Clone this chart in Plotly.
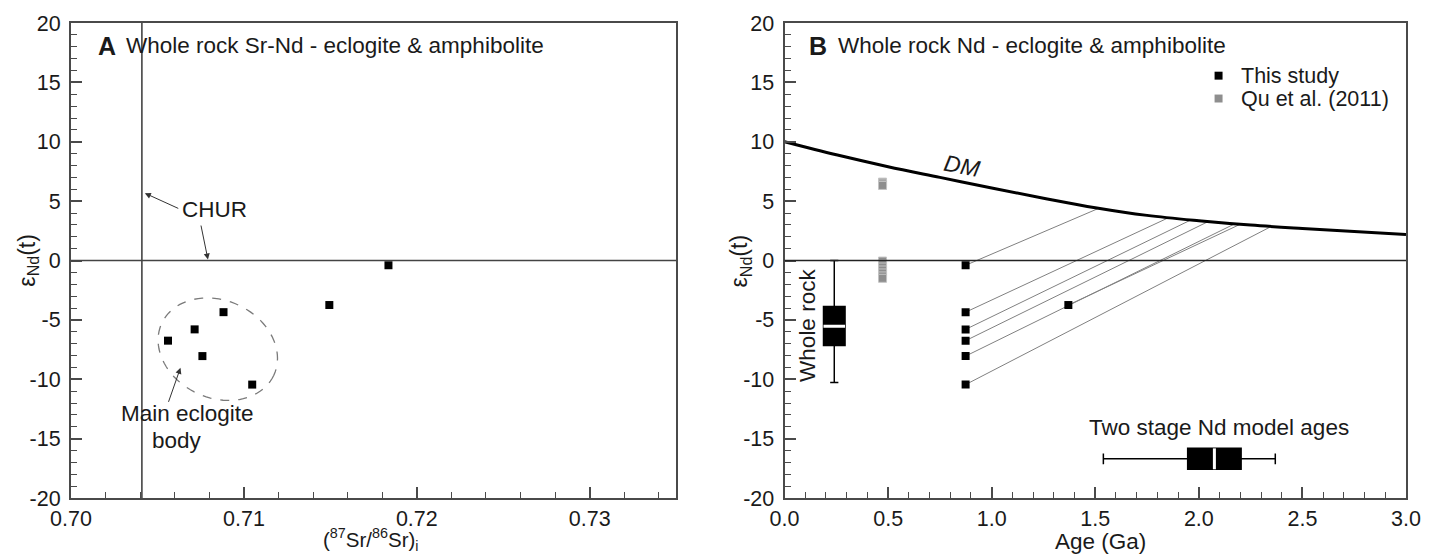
import numpy as np
import plotly.graph_objects as go

# ---------------- data ----------------
# Panel A: whole-rock Sr-Nd
sr_initial = [0.70561, 0.70715, 0.70760, 0.70882, 0.71048, 0.71494, 0.71836]
end_a = [-6.75, -5.80, -8.05, -4.35, -10.45, -3.75, -0.40]
CHUR_SR = 0.7041
CHUR_END = 0.0

# Panel B: whole-rock Nd evolution
age_this = [0.874, 0.874, 0.874, 0.874, 0.874, 0.874, 1.37]
end_this = [-0.40, -4.35, -5.80, -6.75, -8.05, -10.45, -3.75]
tdm2_age = [1.516, 1.857, 1.961, 2.044, 2.172, 2.341, 2.196]
tdm2_end = [4.39, 3.63, 3.41, 3.27, 3.08, 2.79, 3.02]

age_qu = [0.473] * 10
end_qu = [6.60, 6.45, 6.32, -0.05, -0.30, -0.55, -0.80, -1.05, -1.30, -1.50]

dm_age = [0.0, 0.25, 0.5, 0.75, 1.0, 1.25, 1.5, 1.75, 2.0, 2.25, 2.5, 2.75, 3.0]
dm_end = [10.0, 8.9, 7.9, 7.0, 6.1, 5.25, 4.45, 3.8, 3.35, 2.98, 2.7, 2.45, 2.2]

# box summaries
wr_pos = 0.24
wr_low, wr_q1, wr_med, wr_q3, wr_high = -10.28, -7.15, -5.54, -3.87, 0.0
tdm_pos = -16.7
tdm_low, tdm_q1, tdm_med, tdm_q3, tdm_high = 1.539, 1.946, 2.075, 2.204, 2.369

# tick labels
ya_ticks = [20, 15, 10, 5, 0, -5, -10, -15, -20]
xa_ticks = [0.70, 0.71, 0.72, 0.73]
xb_ticks = [0.0, 0.5, 1.0, 1.5, 2.0, 2.5, 3.0]

# ---------------- layout geometry ----------------
W, H = 1433, 556
L, R, T, B = 71, 1410, 20, 498
PW, PH = R - L, B - T
A_RIGHT = 678
B_LEFT = 786.7
dom_a = [0, (A_RIGHT - L) / PW]
dom_b = [(B_LEFT - L) / PW, 1]


def px(x):
    return (x - L) / PW


def py(y):
    return (B - y) / PH


FONT = "Liberation Sans, Arial, sans-serif"
AX = "#4a4a4a"
TXT = "#1a1a1a"

fig = go.Figure()

# ---- Panel A ----
fig.add_trace(go.Scatter(x=sr_initial, y=end_a, mode="markers",
                         marker=dict(symbol="square", size=8, color="black"),
                         xaxis="x", yaxis="y", showlegend=False, hoverinfo="skip"))

# ---- Panel B ----
lx, ly = [], []
for a0, e0, a1, e1 in zip(age_this, end_this, tdm2_age, tdm2_end):
    lx += [a0, a1, None]
    ly += [e0, e1, None]
fig.add_trace(go.Scatter(x=lx, y=ly, mode="lines", line=dict(color="#808080", width=1),
                         xaxis="x2", yaxis="y2", showlegend=False, hoverinfo="skip"))
fig.add_trace(go.Scatter(x=dm_age, y=dm_end, mode="lines",
                         line=dict(color="black", width=3, shape="spline"),
                         xaxis="x2", yaxis="y2", showlegend=False, hoverinfo="skip"))
fig.add_trace(go.Scatter(x=age_qu, y=end_qu, mode="markers",
                         marker=dict(symbol="square", size=8, color="#8e8e8e",
                                     line=dict(color="#c4c4c4", width=1)),
                         xaxis="x2", yaxis="y2", showlegend=False, hoverinfo="skip"))
fig.add_trace(go.Scatter(x=age_this, y=end_this, mode="markers",
                         marker=dict(symbol="square", size=8, color="black"),
                         xaxis="x2", yaxis="y2", showlegend=False, hoverinfo="skip"))

fig.add_trace(go.Box(x=[wr_pos], q1=[wr_q1], median=[wr_med], q3=[wr_q3],
                     lowerfence=[wr_low], upperfence=[wr_high], width=0.104,
                     whiskerwidth=0.38, fillcolor="black",
                     line=dict(color="black", width=1.5), boxpoints=False,
                     xaxis="x2", yaxis="y2", showlegend=False, hoverinfo="skip"))
fig.add_trace(go.Box(y=[tdm_pos], q1=[tdm_q1], median=[tdm_med], q3=[tdm_q3],
                     lowerfence=[tdm_low], upperfence=[tdm_high], width=1.76,
                     orientation="h", whiskerwidth=0.52, fillcolor="black",
                     line=dict(color="black", width=1.5), boxpoints=False,
                     xaxis="x2", yaxis="y2", showlegend=False, hoverinfo="skip"))

shapes = []
# CHUR reference lines panel A
shapes.append(dict(type="line", xref="x", yref="y domain", x0=CHUR_SR, x1=CHUR_SR, y0=0, y1=1,
                   line=dict(color="#444444", width=1.6)))
shapes.append(dict(type="line", xref="x domain", yref="y", x0=0, x1=1, y0=CHUR_END, y1=CHUR_END,
                   line=dict(color="#444444", width=1.6)))
# zero line panel B
shapes.append(dict(type="line", xref="x2 domain", yref="y2", x0=0, x1=1, y0=CHUR_END, y1=CHUR_END,
                   line=dict(color="#222222", width=1.6)))
# white median gaps
shapes.append(dict(type="line", xref="x2", yref="y2", x0=wr_pos - 0.052, x1=wr_pos + 0.052,
                   y0=wr_med, y1=wr_med, line=dict(color="white", width=3)))
shapes.append(dict(type="line", xref="x2", yref="y2", x0=tdm_med, x1=tdm_med,
                   y0=tdm_pos - 0.88, y1=tdm_pos + 0.88, line=dict(color="white", width=3)))

# dashed ellipse around main eclogite body (defined in screen pixels)
SX = PW * dom_a[1] / 0.035     # px per unit of Sr ratio
SY = PH / 40.0                 # px per epsilon unit
ell_cx, ell_cy = 0.70849, -7.47
ell_a, ell_b, ell_rot = 62, 49, np.deg2rad(25)
tt = np.linspace(0, 2 * np.pi, 90)
dx = ell_a * np.cos(tt) * np.cos(ell_rot) - ell_b * np.sin(tt) * np.sin(ell_rot)
dy = ell_a * np.cos(tt) * np.sin(ell_rot) + ell_b * np.sin(tt) * np.cos(ell_rot)
ex = ell_cx + dx / SX
ey = ell_cy - dy / SY
path = "M " + " L ".join(f"{a:.6f},{b:.4f}" for a, b in zip(ex, ey)) + " Z"
shapes.append(dict(type="path", xref="x", yref="y", path=path,
                   line=dict(color="#7a7a7a", width=1.3, dash="dash")))

# manual legend squares
shapes.append(dict(type="rect", xref="paper", yref="paper",
                   x0=px(1218), x1=px(1226), y0=py(77), y1=py(69),
                   fillcolor="black", line=dict(width=0)))
shapes.append(dict(type="rect", xref="paper", yref="paper",
                   x0=px(1218), x1=px(1226), y0=py(100), y1=py(92),
                   fillcolor="#8e8e8e", line=dict(width=0)))

ann = []


def text(x, y, s, size=22.5, xa="center", ya="middle", angle=0, **kw):
    ann.append(dict(x=px(x), y=py(y), xref="paper", yref="paper", text=s, showarrow=False,
                    xanchor=xa, yanchor=ya, textangle=angle,
                    font=dict(size=size, color=TXT, family=FONT), **kw))


text(96, 43, "<b>A</b>", size=25, xa="left")
text(124, 43, "Whole rock Sr-Nd - eclogite & amphibolite", xa="left")
text(809, 43, "<b>B</b>", size=25, xa="left")
text(838, 43, "Whole rock Nd - eclogite & amphibolite", xa="left")
text(1242, 73, "This study", size=21.5, xa="left")
text(1242, 96, "Qu et al. (2011)", size=21.5, xa="left")
text(215, 208, "CHUR")
text(188, 413, "Main eclogite")
text(177, 440, "body")
text(809, 324, "Whole rock", angle=-90)
text(965, 164, "<i>DM</i>", size=23, angle=11)
text(1222, 427, "Two stage Nd model ages")
text(371, 556, "(<sup>87</sup>Sr/<sup>86</sup>Sr)<sub>i</sub>", size=20.5, ya="bottom")
text(1104, 542, "Age (Ga)")
text(28, 259, "ε<sub>Nd</sub>(t)", size=23, angle=-90)
text(743, 259, "ε<sub>Nd</sub>(t)", size=23, angle=-90)


def arrow(x0, y0, x1, y1):
    ann.append(dict(x=x1, y=y1, ax=x0, ay=y0, xref="x", yref="y", axref="x", ayref="y",
                    text="", showarrow=True, arrowhead=2, arrowsize=1.2, arrowwidth=1,
                    arrowcolor="#333333"))


arrow(0.70629, 4.33, 0.70427, 5.67)
arrow(0.70750, 3.07, 0.70792, 0.08)
arrow(0.70561, -12.03, 0.70633, -9.04)


def axis_common():
    return dict(showline=True, mirror=True, linecolor=AX, linewidth=2, ticks="inside",
                ticklen=11, tickwidth=1.5, tickcolor=AX, showgrid=False, zeroline=False,
                tickfont=dict(size=21.5, color=TXT, family=FONT))


ya = axis_common()
ya.update(range=[-20, 20], tickmode="array", tickvals=ya_ticks,
          ticktext=[f"{v:g}" for v in ya_ticks], ticklabelstandoff=4,
          minor=dict(dtick=1, ticks="inside", ticklen=6, tickcolor=AX, tickwidth=1.2))
xa = axis_common()
xa.update(range=[0.70, 0.735], domain=dom_a, tickmode="array", tickvals=xa_ticks,
          ticktext=[f"{v:.2f}" for v in xa_ticks],
          minor=dict(dtick=0.002, tick0=0.70, ticks="inside", ticklen=6, tickcolor=AX, tickwidth=1.2))
xb = axis_common()
xb.update(range=[0, 3], domain=dom_b, tickmode="array", tickvals=xb_ticks,
          ticktext=[f"{v:.1f}" for v in xb_ticks],
          minor=dict(dtick=0.1, tick0=0, ticks="inside", ticklen=6, tickcolor=AX, tickwidth=1.2))
yb = dict(ya)
yb.update(anchor="x2")

fig.update_layout(
    width=W, height=H, margin=dict(l=L, r=W - R, t=T, b=H - B),
    paper_bgcolor="white", plot_bgcolor="white",
    font=dict(family=FONT, color=TXT),
    xaxis=xa, yaxis=ya, xaxis2=dict(xb, anchor="y2"), yaxis2=yb,
    shapes=shapes, annotations=ann, showlegend=False,
)

fig.write_html("out.html")
